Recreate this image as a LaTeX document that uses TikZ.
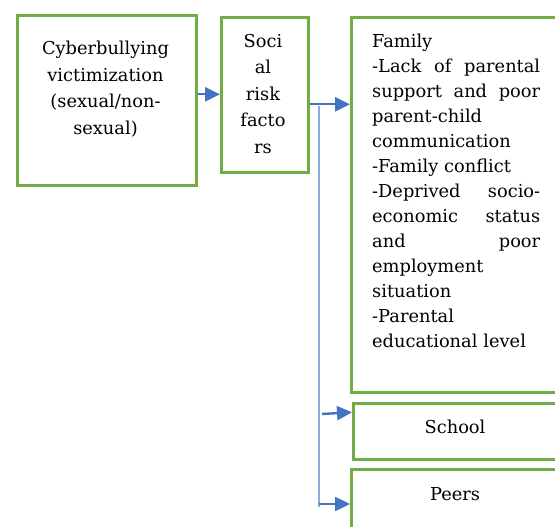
\documentclass[tikz,border=0pt]{standalone}
\usepackage{fontspec}
\setmainfont{DejaVu Serif}
\usetikzlibrary{arrows.meta}
\definecolor{boxgreen}{HTML}{70AD47}
\definecolor{arrblue}{HTML}{4472C4}
\definecolor{lineblue}{HTML}{8EAADB}

\begin{document}
\begin{tikzpicture}[x=1pt,y=-1pt,
  box/.style={draw=boxgreen,line width=2.6pt,rectangle,inner sep=0pt,anchor=north west},
  txt/.style={inner sep=0pt,font=\fontsize{17.8}{26.5}\selectfont},
  arr/.style={draw=arrblue,line width=2.4pt,-{Triangle[length=15pt,width=14pt]}}]
\clip (0,0) rectangle (555,527);
% boxes
\node[box,minimum width=179pt,minimum height=170pt] (cbv) at (16,14) {};
\node[box,minimum width=87pt,minimum height=155pt] (srf) at (220,16) {};
\node[box,minimum width=212pt,minimum height=375pt] (family) at (350,16) {};
\node[box,minimum width=210pt,minimum height=56pt] (school) at (352,402) {};
\node[box,minimum width=212pt,minimum height=80pt] (peers) at (350,468) {};
% texts
\node[txt,align=center,anchor=north] (cbvtxt) at (105.5,41) {Cyberbullying\\victimization\\(sexual/non-\\sexual)};
\node[txt,align=center,anchor=north] (srftxt) at (263,34) {Soci\\al\\risk\\facto\\rs};
\node[txt,font=\fontsize{17.8}{25}\selectfont,text width=168pt,align=left,anchor=north west] (familytxt) at (372,34)
  {Family\\-Lack\hfill of\hfill parental\\support\hfill and\hfill poor\\parent-child\\communication\\-Family conflict\\-Deprived\hfill socio-\\economic\hfill status\\and\hfill poor\\employment\\situation\\-Parental\\educational level};
\node[txt,anchor=base] (schooltxt) at (455,433) {School};
\node[txt,anchor=base] (peerstxt) at (455,500) {Peers};
% connectors
\coordinate (vtop) at (319,106);
\coordinate (vbot) at (319,507);
\coordinate (sch0) at (322,414);
\coordinate (pee0) at (319,504);
\draw[lineblue,line width=1.3pt] (vtop) -- (vbot);
\draw[arr] ([yshift=6pt]cbv.east) -- ([yshift=6pt]cbv.east -| srf.west);
\draw[arr] ([yshift=-9.5pt]srf.east) -- ([yshift=-9.5pt]srf.east -| family.west);
\draw[arr] (sch0) -- ([yshift=19pt]school.west);
\draw[arr] (pee0) -- (pee0 -| peers.west);
\end{tikzpicture}
\end{document}
